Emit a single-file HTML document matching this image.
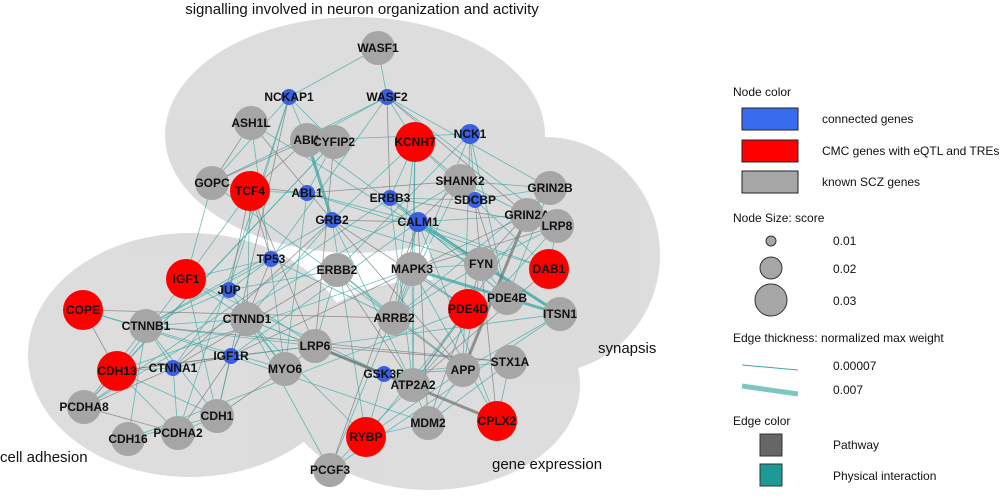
<!DOCTYPE html>
<html><head><meta charset="utf-8"><style>
html,body{margin:0;padding:0;background:#fff;}
svg{display:block;font-family:"Liberation Sans",sans-serif;}
</style></head><body>
<svg id="s" width="1000" height="501" viewBox="0 0 1000 501">
<g fill="#d9d9d9" opacity="0.9">
<ellipse cx="355" cy="135" rx="190" ry="118"/>
<ellipse cx="545" cy="255" rx="115" ry="118"/>
<ellipse cx="190" cy="355" rx="162" ry="122"/>
<ellipse cx="430" cy="385" rx="150" ry="105"/>
</g>
<g id="edges"></g>
<g id="nodes"></g>
<g font-size="15" fill="#111">
<text x="362" y="14" text-anchor="middle">signalling involved in neuron organization and activity</text>
<text x="598" y="353">synapsis</text>
<text x="0" y="462">cell adhesion</text>
<text x="492" y="469">gene expression</text>
</g>
<g font-size="12" fill="#111">
<text x="733" y="96">Node color</text>
<rect x="742" y="108" width="56" height="22" fill="#3a6cf0" stroke="#222"/>
<text x="822" y="123">connected genes</text>
<rect x="742" y="140" width="56" height="22" fill="#f00" stroke="#222"/>
<text x="822" y="155">CMC genes with eQTL and TREs</text>
<rect x="742" y="171" width="56" height="22" fill="#a6a6a6" stroke="#222"/>
<text x="822" y="186">known SCZ genes</text>
<text x="733" y="222">Node Size:  score</text>
<circle cx="771" cy="241" r="5" fill="#a6a6a6" stroke="#333"/>
<text x="833" y="245">0.01</text>
<circle cx="771" cy="268" r="11" fill="#a6a6a6" stroke="#333"/>
<text x="833" y="273">0.02</text>
<circle cx="771" cy="300" r="16" fill="#a6a6a6" stroke="#333"/>
<text x="833" y="305">0.03</text>
<text x="733" y="342">Edge thickness: normalized max weight</text>
<line x1="742" y1="365" x2="798" y2="370" stroke="#3aa9a5" stroke-width="1"/>
<text x="833" y="370">0.00007</text>
<line x1="742" y1="386" x2="798" y2="394" stroke="#7fc5c2" stroke-width="5"/>
<text x="833" y="394">0.007</text>
<text x="733" y="425">Edge color</text>
<rect x="760" y="434" width="22" height="22" fill="#666" stroke="#333"/>
<text x="833" y="449">Pathway</text>
<rect x="760" y="464" width="22" height="22" fill="#1d9a98" stroke="#333"/>
<text x="833" y="480">Physical interaction</text>
</g>
</svg>
<script>
var N=[["WASF1",378,48,"g"],["NCKAP1",289,97,"b"],["WASF2",387,97,"b"],["ASH1L",251,123,"g"],["ABI1",307,140,"g"],["CYFIP2",334,142,"g"],["KCNH7",415,142,"r"],["NCK1",470,134,"b"],["GOPC",212,183,"g"],["TCF4",250,191,"r"],["ABL1",307,193,"b"],["SHANK2",460,181,"g"],["ERBB3",390,198,"b"],["SDCBP",475,200,"b"],["GRIN2B",550,188,"g"],["GRB2",332,220,"b"],["CALM1",418,222,"b"],["GRIN2A",527,215,"g"],["LRP8",557,226,"g"],["TP53",271,259,"b"],["ERBB2",337,270,"g"],["MAPK3",412,269,"g"],["FYN",481,264,"g"],["DAB1",549,269,"r"],["IGF1",186,279,"r"],["JUP",229,290,"b"],["COPE",83,310,"r"],["PDE4B",507,298,"g"],["PDE4D",468,309,"r"],["ITSN1",560,314,"g"],["CTNNB1",146,326,"g"],["CTNND1",247,319,"g"],["ARRB2",394,318,"g"],["LRP6",315,346,"g"],["CDH13",117,371,"r"],["CTNNA1",173,368,"b"],["IGF1R",231,356,"b"],["MYO6",285,369,"g"],["GSK3B",384,374,"b"],["APP",463,370,"g"],["STX1A",510,362,"g"],["ATP2A2",413,385,"g"],["PCDHA8",84,407,"g"],["CDH1",217,416,"g"],["PCDHA2",178,433,"g"],["CDH16",128,439,"g"],["MDM2",428,423,"g"],["CPLX2",497,421,"r"],["RYBP",366,437,"r"],["PCGF3",330,470,"g"]];
var ns="http://www.w3.org/2000/svg",E=document.getElementById("edges"),G=document.getElementById("nodes");
var seed=7;function rnd(){seed=(seed*16807)%2147483647;return seed/2147483647;}
function el(t,a,p){var e=document.createElementNS(ns,t);for(var k in a)e.setAttribute(k,a[k]);p.appendChild(e);return e;}
for(var i=0;i<N.length;i++)for(var j=i+1;j<N.length;j++){var a=N[i],b=N[j],d=Math.hypot(a[1]-b[1],a[2]-b[2]);var p=d<120?0.45:(d<220?0.16:0.03);if(rnd()<p){var gray=rnd()<0.3;el("line",{x1:a[1],y1:a[2],x2:b[1],y2:b[2],stroke:gray?"#777":"#3aa9a5","stroke-width":rnd()<0.05?3:0.8,opacity:0.75},E);}}
N.forEach(function(n){var c=n[3]=="g"?"#a6a6a6":n[3]=="r"?"#f00":"#3a5fe0";var r=n[3]=="g"?17:n[3]=="r"?20:8;if(n[0]=="NCK1"||n[0]=="CALM1")r=10;el("circle",{cx:n[1],cy:n[2],r:r,fill:c},G);var t=el("text",{x:n[1],y:n[2]+4,"text-anchor":"middle","font-size":"12","font-weight":"bold",fill:"#111"},G);t.textContent=n[0];});
</script>
</body></html>
